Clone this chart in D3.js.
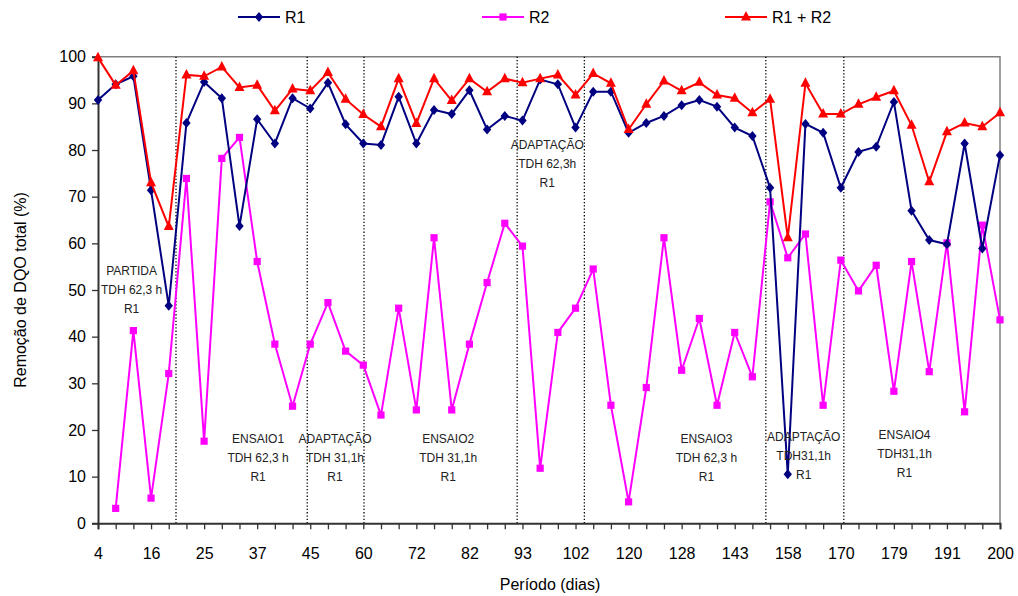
<!DOCTYPE html>
<html><head><meta charset="utf-8">
<script src="https://cdn.jsdelivr.net/npm/d3@7/dist/d3.min.js"></script>
<style>body{margin:0;background:#fff}svg{display:block;font-family:"Liberation Sans",Arial,sans-serif}</style>
</head><body><svg id="c" width="1018" height="596"></svg>
<script>
// x positions are sample indices (52 samples); every third one carries a day label
const tickLabels = ["4","16","25","37","45","60","72","82","93","102","120","128","143","158","170","179","191","200"];
const r1 = [90.7,94.1,95.8,71.4,46.6,85.8,94.6,91.1,63.7,86.6,81.4,91.1,88.9,94.4,85.5,81.4,81.1,91.4,81.4,88.6,87.7,92.8,84.4,87.3,86.3,95.1,94.1,84.8,92.5,92.5,83.7,85.8,87.3,89.6,90.7,89.3,84.8,83.0,71.9,10.5,85.6,83.7,71.9,79.6,80.7,90.3,67.0,60.7,59.8,81.4,58.9,78.9];
const r2 = [null,3.2,41.3,5.4,32.1,73.9,17.6,78.2,82.7,56.1,38.4,25.1,38.4,47.3,36.9,33.9,23.2,46.1,24.3,61.2,24.3,38.4,51.6,64.3,59.4,11.8,40.9,46.1,54.5,25.3,4.6,29.1,61.2,32.8,43.9,25.3,40.9,31.4,68.9,56.9,62.0,25.3,56.4,49.8,55.3,28.3,56.1,32.5,60.1,23.9,63.9,43.6];
const r12 = [99.8,93.9,97.0,73.0,63.6,96.1,95.8,97.8,93.4,93.9,88.4,93.1,92.7,96.6,90.9,87.6,85.0,95.3,85.7,95.3,90.6,95.3,92.5,95.3,94.4,95.3,96.1,91.8,96.4,94.3,84.4,89.8,94.8,92.7,94.5,91.8,91.1,88.0,90.9,61.2,94.3,87.7,87.7,89.8,91.3,92.7,85.3,73.2,83.9,85.8,85.0,88.0];
const yTicks = [0,10,20,30,40,50,60,70,80,90,100];
// phase separators (fractional sample index)
const phaseLines = [4.41,11.83,15.04,23.7,27.5,37.76,42.17];
const phaseLabels = [
  {at:1.9, row:"low1", lines:["PARTIDA","TDH 62,3 h","R1"]},
  {at:9.05, row:"bottom", lines:["ENSAIO1","TDH 62,3 h","R1"]},
  {at:13.4, row:"bottom", lines:["ADAPTAÇÃO","TDH 31,1h","R1"]},
  {at:19.8, row:"bottom", lines:["ENSAIO2","TDH 31,1h","R1"]},
  {at:25.4, row:"top", lines:["ADAPTAÇÃO","TDH 62,3h","R1"]},
  {at:34.4, row:"bottom", lines:["ENSAIO3","TDH 62,3 h","R1"]},
  {at:39.9, row:"bottom2", lines:["ADAPTAÇÃO","TDH31,1h","R1"]},
  {at:45.6, row:"bottom3", lines:["ENSAIO4","TDH31,1h","R1"]}
];
const seriesNames = ["R1","R2","R1 + R2"];

const svg = d3.select("#c");
const L=98, R=1000, T=56.7, B=523.3;
const x = d3.scaleLinear().domain([0, r1.length-1]).range([L, R]);
const y = d3.scaleLinear().domain([0,100]).range([B, T]);

// plot frame (top & right)
svg.append("path").attr("d",`M${L},${T}H${R}V${B}`).attr("fill","none").attr("stroke","#808080").attr("stroke-width",1.5);

// phase separators
svg.selectAll("line.ph").data(phaseLines).join("line")
  .attr("x1",d=>x(d)).attr("x2",d=>x(d)).attr("y1",T).attr("y2",B)
  .attr("stroke","#000").attr("stroke-width",1.3).attr("stroke-dasharray","1.3,2");

// axes
const yAxis = svg.append("g").attr("transform",`translate(${L},0)`)
  .call(d3.axisLeft(y).tickValues(yTicks).tickSize(6).tickPadding(6));
const xAxis = svg.append("g").attr("transform",`translate(0,${B})`)
  .call(d3.axisBottom(x).tickValues(d3.range(r1.length)).tickSize(6).tickPadding(18)
    .tickFormat(i => i%3===0 ? tickLabels[i/3] : ""));
[yAxis,xAxis].forEach(g=>{
  g.select(".domain").attr("stroke","#333").attr("stroke-width",2);
  g.selectAll(".tick line").attr("stroke","#333").attr("stroke-width",1.3);
  g.selectAll("text").attr("font-size",16).attr("fill","#000").attr("font-family",'"Liberation Sans",Arial,sans-serif');
});

// axis titles
svg.append("text").attr("x",550).attr("y",590).attr("text-anchor","middle").attr("font-size",16).text("Período (dias)");
svg.append("text").attr("transform","translate(26,290) rotate(-90)").attr("text-anchor","middle").attr("font-size",16).text("Remoção de DQO total (%)");

// markers
const diamond = "M0,-5L4.2,0L0,5L-4.2,0Z";
const square = "M-3.6,-3.6H3.6V3.6H-3.6Z";
const triangle = "M0,-6L5,3.5H-5Z";
const series = [
  {name:seriesNames[0], data:r1, color:"#000080", mark:diamond},
  {name:seriesNames[1], data:r2, color:"#FF00FF", mark:square},
  {name:seriesNames[2], data:r12, color:"#FF0000", mark:triangle}
];
const line = d3.line().defined(d=>d!=null).x((d,i)=>x(i)).y(d=>y(d));
// draw order: R2, R1, R1+R2
[series[1],series[0],series[2]].forEach(s=>{
  const g = svg.append("g");
  g.append("path").attr("d", line(s.data)).attr("fill","none").attr("stroke",s.color).attr("stroke-width",2);
  g.selectAll("path.m").data(s.data.map((v,i)=>({v,i})).filter(d=>d.v!=null)).join("path")
    .attr("class","m").attr("d",s.mark).attr("fill",s.color)
    .attr("transform",d=>`translate(${x(d.i)},${y(d.v)})`);
});

// phase annotations
const rowY = {low1:271, bottom:439, bottom2:437, bottom3:435, top:145};
phaseLabels.forEach(p=>{
  const t = svg.append("text").attr("text-anchor","middle").attr("font-size",12).attr("fill","#222");
  p.lines.forEach((s,k)=>t.append("tspan").attr("x",x(p.at)).attr("y",rowY[p.row]+4+k*19).text(s));
});

// legend
const legX = [238,482,725];
series.forEach((s,k)=>{
  const g = svg.append("g").attr("transform",`translate(${legX[k]},17)`);
  g.append("line").attr("x1",0).attr("x2",42).attr("stroke",s.color).attr("stroke-width",2);
  g.append("path").attr("d",s.mark).attr("fill",s.color).attr("transform","translate(21,0)");
  g.append("text").attr("x",47).attr("y",6).attr("font-size",16).text(s.name);
});
</script></body></html>
